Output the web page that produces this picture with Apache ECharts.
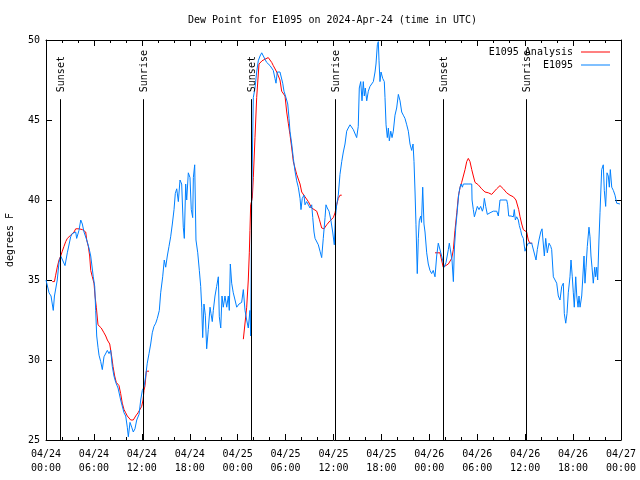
<!DOCTYPE html>
<html>
<head>
<meta charset="utf-8">
<script src="https://cdn.jsdelivr.net/npm/echarts@6/dist/echarts.min.js"></script>
<style>html,body{margin:0;padding:0;background:#fff}#c{width:640px;height:480px}</style>
</head>
<body>
<div id="c"></div>
<script>
// Hours since 2024-04-24 00:00 UTC, dew point in degrees F
var stationSeries = [
[0,35.0],[0.16,35.0],[0.38,34.2],[0.63,34.0],[0.91,33.1],[1.06,34.0],[1.41,35.0],[1.63,36.1],[1.84,36.5],[2.07,36.25],[2.38,35.9],[2.59,35.9],[2.67,36.7],[3.09,37.7],[3.29,37.9],[3.72,38.0],[3.84,37.6],[4.13,38.1],[4.35,38.75],[4.55,38.5],[4.76,38.0],[5.10,37.5],[5.38,37.0],[5.60,36.5],[5.92,35.2],[6.10,34.6],[6.22,33.1],[6.35,31.5],[6.51,30.8],[6.64,30.3],[6.85,29.9],[7.05,29.4],[7.26,30.2],[7.68,30.6],[7.89,30.4],[8.10,30.6],[8.30,29.6],[8.51,29.0],[8.73,28.6],[9.02,28.25],[9.35,27.5],[9.55,27.4],[9.77,26.7],[9.98,26.5],[10.18,25.8],[10.31,25.2],[10.52,26.1],[10.73,25.8],[10.93,25.5],[11.14,25.7],[11.36,26.25],[11.65,26.6],[11.86,27.5],[12.06,28.1],[12.27,28.3],[12.48,29.0],[12.68,29.8],[12.90,30.4],[13.11,31.0],[13.31,31.7],[13.52,32.1],[13.74,32.3],[13.94,32.6],[14.19,33.1],[14.36,34.2],[14.61,35.2],[14.81,36.25],[14.99,35.8],[15.19,36.5],[15.40,37.1],[15.61,37.7],[15.82,38.5],[16.03,39.4],[16.19,40.4],[16.37,40.7],[16.57,39.9],[16.78,41.25],[16.99,41.0],[17.19,38.3],[17.32,37.6],[17.49,41.0],[17.62,40.0],[17.82,41.7],[18.03,41.4],[18.19,39.4],[18.37,38.9],[18.45,41.4],[18.62,42.2],[18.78,37.5],[19.0,36.7],[19.2,35.6],[19.37,34.6],[19.5,33.3],[19.62,31.4],[19.78,33.5],[19.95,32.8],[20.12,30.7],[20.32,31.9],[20.54,33.3],[20.66,32.9],[20.82,32.4],[20.95,33.1],[21.16,34.0],[21.37,34.6],[21.58,35.2],[21.7,32.7],[21.88,32.0],[22.04,34.0],[22.2,33.3],[22.41,34.0],[22.63,33.3],[22.83,34.0],[22.95,33.1],[23.08,36.0],[23.25,34.8],[23.45,34.2],[23.67,33.75],[23.88,33.3],[24.17,33.5],[24.50,33.6],[24.71,34.4],[24.92,33.1],[25.13,32.5],[25.33,32.0],[25.54,33.1],[25.63,31.5],[25.76,40.2],[25.96,46.4],[26.17,47.0],[26.38,48.0],[26.58,48.7],[26.80,49.0],[27.01,49.2],[27.21,49.3],[27.42,48.8],[27.63,48.6],[27.83,48.7],[28.05,48.4],[28.26,48.5],[28.46,48.1],[28.67,47.6],[28.80,47.3],[28.96,48.0],[29.30,48.0],[29.51,48.0],[29.64,47.3],[29.80,46.8],[30.05,46.4],[30.27,46.0],[30.43,45.1],[30.55,44.3],[30.77,43.5],[30.97,42.6],[31.18,41.8],[31.39,41.2],[31.59,40.8],[31.81,40.1],[31.93,39.4],[32.09,40.1],[32.31,40.3],[32.43,39.7],[32.64,39.9],[32.85,39.7],[33.06,39.5],[33.27,39.7],[33.40,38.9],[33.56,38.0],[33.69,37.6],[33.90,37.6],[34.10,37.2],[34.31,36.8],[34.52,36.4],[34.72,37.6],[34.94,38.9],[35.06,39.7],[35.22,39.5],[35.44,39.3],[35.65,38.8],[35.90,38.0],[36.10,37.2],[36.23,38.9],[36.40,39.7],[36.60,40.3],[36.81,41.6],[37.03,42.4],[37.23,43.0],[37.44,43.5],[37.65,44.3],[37.85,44.5],[38.07,44.7],[38.32,44.6],[38.48,44.4],[38.69,44.5],[38.90,43.9],[39.10,44.6],[39.23,47.0],[39.41,47.4],[39.57,46.2],[39.73,47.4],[39.86,46.5],[39.98,47.0],[40.16,46.2],[40.36,46.8],[40.57,47.1],[40.78,47.1],[40.99,47.4],[41.20,48.0],[41.32,48.5],[41.49,49.7],[41.61,49.9],[41.70,48.7],[41.82,47.4],[41.95,48.0],[42.16,47.6],[42.36,47.4],[42.45,46.4],[42.58,44.7],[42.74,43.9],[42.87,44.5],[42.99,43.7],[43.17,44.3],[43.33,43.9],[43.49,44.3],[43.70,45.3],[43.91,45.75],[44.12,46.6],[44.33,46.2],[44.54,45.5],[44.74,45.3],[44.95,45.1],[45.17,44.7],[45.37,44.3],[45.58,43.5],[45.79,43.1],[45.96,43.5],[46.08,42.4],[46.21,40.5],[46.33,38.45],[46.49,35.4],[46.62,37.6],[46.74,38.7],[46.92,39.0],[47.02,38.6],[47.17,40.8],[47.33,38.5],[47.46,38.0],[47.67,36.7],[47.87,36.0],[48.08,35.6],[48.29,35.4],[48.49,35.6],[48.71,35.2],[48.92,36.5],[49.12,37.3],[49.33,37.2],[49.54,36.5],[49.74,36.5],[49.87,35.8],[50.09,36.1],[50.38,36.9],[50.50,37.3],[50.72,37.3],[50.84,36.25],[51.01,34.9],[51.14,37.0],[51.31,38.3],[51.44,39.0],[51.56,39.0],[51.69,40.4],[51.85,40.8],[51.98,41.0],[52.14,40.8],[52.26,41.0],[52.48,41.0],[52.85,41.0],[53.31,41.0],[53.35,40.0],[53.51,39.4],[53.64,38.95],[53.81,39.0],[54.01,39.6],[54.22,39.4],[54.43,39.6],[54.64,39.3],[54.76,39.5],[54.89,40.1],[55.06,39.6],[55.26,39.1],[55.60,39.2],[56.01,39.3],[56.44,39.3],[56.64,39.0],[56.85,40.0],[57.69,40.0],[57.81,39.7],[57.94,39.0],[58.23,39.0],[58.52,38.95],[58.64,39.4],[58.77,38.75],[58.94,38.95],[59.14,38.75],[59.27,38.4],[59.44,38.1],[59.57,37.8],[59.77,37.6],[59.98,36.8],[60.19,37.1],[60.39,37.3],[60.82,37.3],[61.02,37.3],[61.23,36.5],[61.36,36.25],[61.52,36.9],[61.73,37.5],[61.95,38.0],[62.11,38.2],[62.27,38.3],[62.40,36.5],[62.57,37.6],[62.77,36.7],[62.99,37.3],[63.20,37.1],[63.32,36.9],[63.53,35.2],[63.74,35.1],[63.95,34.8],[64.15,34.0],[64.36,33.75],[64.58,34.6],[64.78,34.8],[64.90,32.9],[65.08,32.3],[65.24,32.9],[65.40,34.2],[65.61,35.2],[65.74,36.25],[65.90,35.2],[66.03,34.2],[66.15,33.3],[66.33,35.2],[66.46,34.0],[66.62,33.3],[66.74,34.0],[66.87,33.3],[67.08,34.0],[67.20,35.0],[67.37,36.5],[67.49,34.8],[67.62,35.8],[67.78,37.1],[67.99,38.3],[68.12,37.7],[68.24,36.5],[68.37,35.8],[68.53,34.8],[68.71,35.8],[68.83,35.2],[68.96,35.8],[69.08,35.0],[69.24,37.5],[69.37,39.2],[69.58,41.9],[69.78,42.2],[69.91,40.6],[70.08,39.6],[70.25,41.7],[70.41,41.5],[70.54,40.8],[70.66,41.9],[70.84,40.8],[71.04,40.6],[71.25,40.3],[71.46,39.8],[71.67,39.75],[71.87,39.75]
];

var analysisDay1 = [
[0.79,34.9],[1.06,34.9],[1.21,35.3],[1.41,35.8],[1.63,36.25],[1.84,36.5],[2.04,36.8],[2.25,37.1],[2.47,37.4],[2.67,37.6],[3.09,37.8],[3.51,38.0],[3.72,38.2],[4.13,38.2],[4.55,38.15],[4.97,38.0],[5.10,37.5],[5.30,37.1],[5.47,36.5],[5.60,35.6],[5.80,35.2],[6.01,34.8],[6.14,34.0],[6.30,33.3],[6.51,32.2],[6.64,32.1],[6.92,32.0],[7.26,31.7],[7.48,31.5],[7.68,31.25],[7.98,31.0],[8.10,30.9],[8.23,30.2],[8.39,29.6],[8.60,29.0],[8.80,28.6],[9.14,28.4],[9.35,27.9],[9.55,27.3],[9.77,26.9],[9.98,26.7],[10.18,26.5],[10.61,26.25],[10.93,26.25],[11.23,26.5],[11.52,26.7],[11.77,26.8],[11.98,27.1],[12.15,27.5],[12.27,28.1],[12.40,28.4],[12.56,29.3],[12.90,29.3]
];
var analysisDay2 = [
[24.71,31.3],[24.92,31.3],[25.13,33.3],[25.33,35.0],[25.46,36.7],[25.54,38.1],[25.63,39.7],[25.83,40.1],[25.96,41.4],[26.17,43.9],[26.38,46.4],[26.67,48.5],[27.05,48.7],[27.42,48.8],[27.83,48.9],[28.26,48.6],[28.46,48.4],[28.89,48.0],[29.30,47.5],[29.51,46.8],[29.93,46.5],[30.14,45.5],[30.34,44.8],[30.55,44.1],[30.77,43.25],[30.97,42.4],[31.18,42.0],[31.39,41.6],[31.81,41.0],[32.02,40.5],[32.43,40.2],[32.85,39.9],[33.27,39.5],[33.90,39.3],[34.22,38.8],[34.52,38.25],[34.81,38.2],[35.15,38.45],[35.56,38.7],[35.98,38.9],[36.19,39.2],[36.40,39.7],[36.60,40.1],[36.81,40.3],[37.03,40.3]
];
var analysisDay3 = [
[48.71,36.7],[49.33,36.7],[49.74,35.8],[49.96,35.7],[50.38,36.0],[50.80,36.35],[51.01,36.9],[51.21,38.1],[51.44,39.2],[51.63,40.2],[51.85,40.8],[52.05,41.1],[52.26,41.5],[52.47,41.9],[52.68,42.4],[52.88,42.6],[53.09,42.4],[53.31,41.9],[53.51,41.5],[53.72,41.1],[54.13,40.95],[54.55,40.7],[54.97,40.5],[55.39,40.45],[55.81,40.35],[56.01,40.4],[56.43,40.7],[56.85,40.9],[57.26,40.7],[57.68,40.45],[58.10,40.3],[58.52,40.2],[58.85,40.0],[59.06,39.9],[59.19,39.4],[59.36,38.95],[59.57,38.5],[59.77,38.15],[60.19,38.0],[60.39,37.5],[60.60,37.3],[60.89,37.3]
];

var sunHours = [1.75, 12.15, 25.67, 36.2, 49.7, 60.1];
var sunLabels = ['Sunset', 'Sunrise', 'Sunset', 'Sunrise', 'Sunset', 'Sunrise'];
var dayLabels = ['04/24', '04/25', '04/26', '04/27'];
var yTicks = [25, 30, 35, 40, 45, 50];

var FONT = 'DejaVu Sans Mono';
var RED = '#ff0000', BLUE = '#0080ff';

function xLabel(h) {
  var d = Math.floor(h / 24);
  var hh = Math.round(h - d * 24);
  return dayLabels[d] + '\n' + (hh < 10 ? '0' : '') + hh + ':00';
}

var chart = echarts.init(document.getElementById('c'), null, {renderer: 'canvas'});

var xBase = {
  type: 'value', min: 0, max: 72, interval: 6,
  axisLine: {show: true, onZero: false, lineStyle: {color: '#000', width: 1}},
  axisTick: {show: true, inside: true, length: 6, lineStyle: {color: '#000'}},
  minorTick: {show: true, splitNumber: 3, length: 3, lineStyle: {color: '#000'}},
  splitLine: {show: false}
};
var yBase = {
  type: 'value', min: yTicks[0], max: yTicks[yTicks.length - 1], interval: 5,
  axisLine: {show: true, onZero: false, lineStyle: {color: '#000', width: 1}},
  axisTick: {show: true, inside: true, length: 6, lineStyle: {color: '#000'}},
  splitLine: {show: false}
};

function analysisSeries(data) {
  return {
    name: 'E1095 Analysis', type: 'line', data: data, xAxisIndex: 0, yAxisIndex: 0,
    showSymbol: false, symbol: 'none', lineStyle: {color: RED, width: 1}, itemStyle: {color: RED},
    silent: true, z: 2
  };
}

var option = {
  animation: false,
  backgroundColor: '#fff',
  title: {
    text: 'Dew Point for E1095 on 2024-Apr-24 (time in UTC)',
    left: 183, top: 10,
    textStyle: {fontFamily: FONT, fontSize: 10, fontWeight: 'normal', color: '#000'}
  },
  legend: {
    orient: 'vertical', right: 25, top: 42, align: 'right',
    itemWidth: 29, itemHeight: 1, itemGap: 3,
    data: [{name: 'E1095 Analysis', icon: 'rect'}, {name: 'E1095', icon: 'rect'}],
    textStyle: {fontFamily: FONT, fontSize: 10, color: '#000', padding: [0, 3, 0, 0]}
  },
  grid: {left: 46, right: 19, top: 40, bottom: 40, containLabel: false, outerBoundsMode: 'none'},
  xAxis: [
    Object.assign({}, xBase, {
      position: 'bottom',
      axisLabel: {show: true, formatter: xLabel, fontFamily: FONT, fontSize: 10, color: '#000', lineHeight: 14, margin: 7}
    }),
    Object.assign({}, xBase, {position: 'top', axisLabel: {show: false}})
  ],
  yAxis: [
    Object.assign({}, yBase, {
      position: 'left',
      name: 'degrees F', nameLocation: 'middle', nameGap: 31,
      nameTextStyle: {fontFamily: FONT, fontSize: 10, color: '#000'},
      axisLabel: {show: true, fontFamily: FONT, fontSize: 10, color: '#000', margin: 6}
    }),
    Object.assign({}, yBase, {position: 'right', axisLabel: {show: false}})
  ],
  series: [
    analysisSeries(analysisDay1),
    analysisSeries(analysisDay2),
    analysisSeries(analysisDay3),
    {
      name: 'E1095', type: 'line', data: stationSeries,
      showSymbol: false, symbol: 'none', lineStyle: {color: BLUE, width: 1}, itemStyle: {color: BLUE},
      silent: true, z: 3
    },
    {
      type: 'custom', name: 'sun', silent: true, z: 4,
      data: sunHours.map(function (h, i) { return [h, i]; }),
      encode: {x: 0},
      renderItem: function (params, api) {
        var h = api.value(0);
        var i = api.value(1);
        var top = api.coord([h, 46.3]);
        var bot = api.coord([h, 25]);
        var x = Math.round(top[0]) + 0.5;
        return {
          type: 'group',
          children: [
            {type: 'line', shape: {x1: x, y1: top[1], x2: x, y2: bot[1]}, style: {stroke: '#000', lineWidth: 1}},
            {type: 'text', x: x + 1, y: top[1] - 7, rotation: Math.PI / 2,
              style: {text: sunLabels[i], fontFamily: FONT, fontSize: 10, fill: '#000', align: 'left', verticalAlign: 'middle'}}
          ]
        };
      }
    }
  ]
};
chart.setOption(option);
</script>
</body>
</html>
